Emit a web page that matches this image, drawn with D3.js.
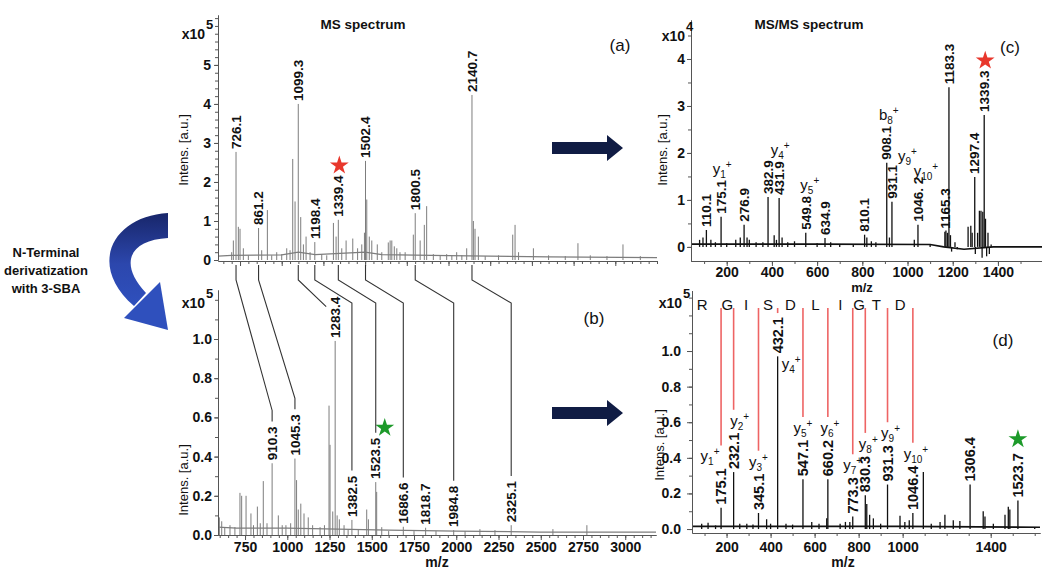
<!DOCTYPE html>
<html>
<head>
<meta charset="utf-8">
<script src="https://cdn.jsdelivr.net/npm/d3@7"></script>
<style>
  body { margin: 0; background: #fff; }
  svg { display: block; }
  text { font-family: "Liberation Sans", Arial, Helvetica, sans-serif; fill: #111; }
</style>
</head>
<body>
<svg id="fig" width="1042" height="572"></svg>
<script>
// ---------- data (m/z, intensity) ----------
// (a) MS spectrum, intensity x1e5
const msLabeled = [[726.1, 2.77], [861.2, 0.82], [1099.3, 4.0], [1198.4, 0.46], [1339.4, 1.03],
  [1502.4, 2.54], [1800.5, 1.2], [2140.7, 4.23]]
const msPeaks = [[700, 0.2], [710, 0.5], [740, 0.85], [750, 0.8], [770, 0.3], [800, 0.12], [880, 0.25],
  [914, 1.28], [940, 0.12], [970, 0.2], [1000, 0.15], [1030, 0.3], [1050, 0.25], [1066, 2.59], [1080, 1.5],
  [1114, 1.1], [1130, 0.4], [1146, 0.6], [1170, 0.2], [1240, 0.15], [1270, 0.12], [1310, 0.95], [1326, 0.6],
  [1360, 0.3], [1386, 0.5], [1426, 0.55], [1455, 0.3], [1480, 0.4], [1496, 0.7], [1510, 1.55], [1525, 0.6],
  [1540, 0.5], [1573, 0.4], [1600, 0.2], [1639, 0.45], [1650, 0.5], [1660, 0.5], [1675, 0.35], [1690, 0.3],
  [1709, 0.2], [1740, 0.2], [1789, 0.65], [1830, 0.5], [1855, 0.9], [1869, 1.38], [1909, 0.15], [1950, 0.12],
  [1989, 0.15], [2020, 0.12], [2049, 0.2], [2080, 0.12], [2109, 0.3], [2149, 1.0], [2159, 0.8], [2179, 0.6],
  [2220, 0.1], [2300, 0.12], [2385, 0.65], [2399, 0.9], [2420, 0.2], [2509, 0.3], [2600, 0.12], [2700, 0.1],
  [2776, 0.43], [2850, 0.12], [2950, 0.1], [3046, 0.4], [3150, 0.1]]
const msBase = [[618, 0.1], [700, 0.12], [1000, 0.13], [1100, 0.2], [1200, 0.14], [1500, 0.2], [1600, 0.14],
  [2000, 0.11], [2600, 0.08], [3250, 0.06]]

// (b) MS spectrum after 3-SBA, intensity x1e5
const derLabeled = [[910.3, 0.366], [1045.3, 0.39], [1283.4, 0.99], [1382.5, 0.077], [1523.5, 0.27],
  [1686.6, 0.042], [1818.7, 0.037], [1984.8, 0.025], [2325.1, 0.05]]
const derPeaks = [[598, 0.09], [612, 0.07], [630, 0.04], [661, 0.05], [690, 0.04], [720, 0.215], [730, 0.2],
  [756, 0.2], [785, 0.11], [800, 0.05], [823, 0.145], [840, 0.06], [858, 0.275], [880, 0.06], [947, 0.1],
  [970, 0.05], [992, 0.05], [1020, 0.06], [1055, 0.28], [1065, 0.13], [1080, 0.16], [1099, 0.11], [1124, 0.09],
  [1150, 0.05], [1194, 0.04], [1220, 0.05], [1247, 0.66], [1253, 0.46], [1269, 0.12], [1295, 0.1], [1308, 0.08],
  [1336, 0.05], [1360, 0.03], [1420, 0.03], [1470, 0.13], [1480, 0.08], [1529, 0.22], [1559, 0.04], [1600, 0.02],
  [1750, 0.02], [1880, 0.02], [2052, 0.02], [2140, 0.03], [2229, 0.025], [2572, 0.03], [2773, 0.05]]
const derBase = [[590, 0.04], [700, 0.035], [1000, 0.035], [1300, 0.03], [1600, 0.025], [2000, 0.02], [2500, 0.015], [3182, 0.015]]

// a -> b shifted peaks
const shiftPairs = [[726.1, 910.3], [861.2, 1045.3], [1099.3, 1283.4], [1198.4, 1382.5], [1339.4, 1523.5],
  [1502.4, 1686.6], [1800.5, 1984.8], [2140.7, 2325.1]]

// (c) MS/MS of 1339.3, intensity x1e4
const msmsLabeled = [[110.1, 0.36, "110.1"], [175.1, 0.64, "175.1"], [276.9, 0.47, "276.9"], [382.9, 1.06, "382.9"],
  [431.9, 1.04, "431.9"], [549.8, 0.30, "549.8"], [634.9, 0.19, "634.9"], [810.1, 0.26, "810.1"],
  [908.1, 1.79, "908.1"], [931.1, 0.96, "931.1"], [1046.2, 0.47, "1046. 2"], [1165.3, 0.32, "1165.3"],
  [1183.3, 3.40, "1183.3"], [1297.4, 1.49, "1297.4"], [1339.3, 2.81, "1339.3"]]
const msmsPeaks = [[80, 0.15], [95, 0.2], [130, 0.15], [150, 0.1], [200, 0.08], [240, 0.15], [260, 0.2], [290, 0.2],
  [300, 0.15], [330, 0.1], [360, 0.1], [410, 0.25], [420, 0.15], [445, 0.2], [470, 0.1], [500, 0.12], [600, 0.08],
  [660, 0.1], [700, 0.06], [760, 0.05], [820, 0.2], [840, 0.12], [860, 0.1], [920, 0.2], [1030, 0.15], [1100, 0.05],
  [1170, 0.35], [1177, 0.3], [1190, 0.25], [1195, -0.1], [1210, 0.1], [1220, -0.05], [1268, 0.43], [1280, 0.45],
  [1286, 0.3], [1300, -0.15], [1310, 0.3], [1318, 0.77], [1325, 0.77], [1330, -0.23], [1333, 0.75], [1345, 0.6],
  [1350, -0.2], [1356, 0.3], [1362, -0.15], [1370, 0.05]]
const msmsBase = [[42, 0.06], [600, 0.06], [1100, 0.05], [1160, 0.0], [1250, -0.05], [1380, 0.0], [1595, 0.0]]
const msmsIons = [[175.1, "y", "1"], [431.9, "y", "4"], [549.8, "y", "5"], [908.1, "b", "8"], [931.1, "y", "9"], [1046.2, "y", "10"]]

// (d) MS/MS of 1523.7 (derivatized), intensity x1e5
const derMsmsLabeled = [[175.1, 0.12], [232.1, 0.32], [345.1, 0.09], [432.1, 0.97], [547.1, 0.28], [660.2, 0.28],
  [773.3, 0.07], [830.3, 0.19], [931.3, 0.25], [1046.4, 0.09], [1306.4, 0.25], [1523.7, 0.16]]
const derMsmsPeaks = [[87, 0.03], [116, 0.035], [150, 0.02], [260, 0.03], [292, 0.03], [320, 0.025], [382, 0.055],
  [400, 0.03], [470, 0.03], [500, 0.025], [587, 0.04], [620, 0.03], [655, 0.06], [716, 0.03], [740, 0.04], [760, 0.04],
  [837, 0.14], [850, 0.08], [867, 0.06], [900, 0.03], [988, 0.075], [1010, 0.04], [1030, 0.05], [1094, 0.32],
  [1130, 0.03], [1170, 0.04], [1192, 0.08], [1230, 0.05], [1260, 0.045], [1366, 0.1], [1374, 0.07], [1412, 0.03],
  [1465, 0.08], [1480, 0.125], [1487, 0.11], [1600, 0.01]]
const derMsmsBase = [[43, 0.015], [600, 0.015], [1000, 0.015], [1624, 0.01]]
const yIons = [175.1, 232.1, 345.1, 432.1, 547.1, 660.2, 773.3, 830.3, 931.3, 1046.4]
const sequence = ["R", "G", "I", "S", "D", "L", "I", "G", "T", "D"]

// tick labels
const xTicksB = [750, 1000, 1250, 1500, 1750, 2000, 2250, 2500, 2750, 3000]
const xTicksC = [200, 400, 600, 800, 1000, 1200, 1400]
const xTicksD = [200, 400, 600, 800, 1000, 1400]
const yTicksA = [0, 1, 2, 3, 4, 5]
const yTicksB = [0, 0.2, 0.4, 0.6, 0.8, 1.0]
const yTicksC = [0, 1, 2, 3, 4]
const yTicksD = [0, 0.2, 0.4, 0.6, 0.8, 1.0]

// ---------- scales ----------
const xA = d3.scaleLinear().domain([618, 3250]).range([218, 657])
const yA = d3.scaleLinear().domain([0, 6.28]).range([260, 15])
const xB = d3.scaleLinear().domain([590, 3182]).range([218, 656])
const yB = d3.scaleLinear().domain([0, 1.25]).range([535, 290])
const xC = d3.scaleLinear().domain([42, 1595]).range([691, 1042])
const yC = d3.scaleLinear().domain([-0.3, 4.83]).range([261, 20])
const xD = d3.scaleLinear().domain([43, 1624]).range([692, 1040])
const yD = d3.scaleLinear().domain([-0.02, 1.34]).range([532.6, 290.5])

const svg = d3.select("#fig")
const axisColor = "#555"

/*
    sticks for every peak + a thin noisy baseline
*/
const drawSpectrum = (x, y, peaks, base, color, width) => {
    let g = svg.append("g")
    g.selectAll("line")
        .data(peaks)
        .join("line")
        .attr("x1", (d) => x(d[0]))
        .attr("x2", (d) => x(d[0]))
        .attr("y1", y(0))
        .attr("y2", (d) => y(d[1]))
        .attr("stroke", color)
        .attr("stroke-width", width)
    g.append("path")
        .datum(base)
        .attr("d", d3.line().x((d) => x(d[0])).y((d) => y(d[1])))
        .attr("fill", "none")
        .attr("stroke", color)
        .attr("stroke-width", width + 0.3)
}

/*
    rotated m/z labels above the peaks, returns the top of each label
*/
const peakLabels = (x, y, list, size) => {
    let out = {}
    svg.append("g")
        .selectAll("text")
        .data(list)
        .join("text")
        .attr("transform", (d) => "translate(" + x(d[0]) + "," + (y(d[1]) - 3) + ") rotate(-90)")
        .attr("dy", "0.35em")
        .attr("font-size", size)
        .attr("font-weight", "bold")
        .text((d) => d[2] || d[0].toFixed(1))
        .each((d, i, e) => {
            out[d[0]] = { x: x(d[0]), peak: y(d[1]), top: y(d[1]) - 3 - e[i].getComputedTextLength() }
        })
    return out
}

const styleAxis = (g, size) => {
    g.selectAll("path, line").attr("stroke", axisColor)
    g.selectAll("text")
        .attr("fill", "#111")
        .attr("font-size", size)
        .attr("font-weight", "bold")
        .attr("font-family", '"Liberation Sans", Arial, sans-serif')
}

const leftAxis = (x0, y, major, fmt, nMinor, tick, pad) => {
    svg.append("g")
        .attr("transform", "translate(" + x0 + ",0)")
        .call(d3.axisLeft(y).tickValues(y.ticks(nMinor)).tickSize(3).tickFormat("").tickSizeOuter(0))
        .call((g) => styleAxis(g, 14))
    svg.append("g")
        .attr("transform", "translate(" + x0 + ",0)")
        .call(d3.axisLeft(y).tickValues(major).tickSize(tick).tickPadding(pad).tickFormat(fmt).tickSizeOuter(0))
        .call((g) => styleAxis(g, 14))
}

const bottomAxis = (y0, x, major, nMinor, labels, pad) => {
    svg.append("g")
        .attr("transform", "translate(0," + y0 + ")")
        .call(d3.axisBottom(x).tickValues(x.ticks(nMinor)).tickSize(3).tickFormat("").tickSizeOuter(0))
        .call((g) => styleAxis(g, 14))
    svg.append("g")
        .attr("transform", "translate(0," + y0 + ")")
        .call(d3.axisBottom(x).tickValues(major).tickSize(5).tickPadding(pad)
            .tickFormat(labels ? d3.format("d") : "").tickSizeOuter(0))
        .call((g) => styleAxis(g, 14))
}

const text = (x, y, str, opt = {}) => svg.append("text")
    .attr("x", x).attr("y", y)
    .attr("text-anchor", opt.anchor || "middle")
    .attr("font-size", opt.size || 13)
    .attr("font-weight", opt.weight || "normal")
    .attr("transform", opt.rotate ? "rotate(-90," + x + "," + y + ")" : null)
    .text(str)

const power = (x, y, exp) => {
    text(x, y, "x10", { anchor: "end", size: 14, weight: "bold" })
    text(x + 1, y - 10, exp, { anchor: "start", size: 13, weight: "bold" })
}

const ionLabel = (x, y, ion, sub, anchor) => {
    let t = svg.append("text")
        .attr("x", x).attr("y", y)
        .attr("text-anchor", anchor)
        .attr("font-size", 15)
    t.append("tspan").text(ion)
    t.append("tspan").attr("dy", 4).attr("font-size", 10).text(sub)
    t.append("tspan").attr("dy", -10).attr("font-size", 10).text("+")
}

const star = (x, y, color) => svg.append("path")
    .attr("d", d3.symbol(d3.symbolStar, 110)())
    .attr("transform", "translate(" + x + "," + y + ")")
    .attr("fill", color)

// ---------- (a) ----------
drawSpectrum(xA, yA, msPeaks.concat(msLabeled), msBase, "#7d7d7d", 1)
leftAxis(218, yA, yTicksA, d3.format("d"), 30, 4, 3)
bottomAxis(261, xA, xTicksB, 50, false, 2)
let labA = peakLabels(xA, yA, msLabeled, 13.5)
power(205, 39, "5")
text(188, 150, "Intens. [a.u.]", { rotate: true, size: 13 })
text(363, 29, "MS spectrum", { size: 13.5, weight: "bold" })
text(620, 51, "(a)", { size: 17 })
star(labA[1339.4].x + 1, labA[1339.4].top - 10, "#e8372c")

// ---------- (b) ----------
drawSpectrum(xB, yB, derPeaks.concat(derLabeled), derBase, "#7d7d7d", 1)
leftAxis(218, yB, yTicksB, d3.format(".1f"), 12, 4, 2)
bottomAxis(535, xB, xTicksB, 50, true, 2)
let labB = peakLabels(xB, yB, derLabeled, 13.5)
power(205, 308, "5")
text(188, 480, "Intens. [a.u.]", { rotate: true, size: 13 })
text(437, 567, "m/z", { size: 14, weight: "bold" })
text(594, 324, "(b)", { size: 17 })
star(labB[1523.5].x + 9, labB[1523.5].top - 10, "#1d9a2a")

// connectors between a and b
svg.append("g")
    .selectAll("path")
    .data(shiftPairs)
    .join("path")
    .attr("d", (d, i) => {
        let xa = xA(d[0]), lb = labB[d[1]]
        let pts = [[xa, 265], [xa, 280]]
        if (i < 2) {
            pts.push([lb.x, lb.top - 16], [lb.x, lb.top - 5])
        } else if (lb.top < 315) {
            pts.push([lb.x - 9, lb.top + 10])
        } else {
            pts.push([lb.x, 303], [lb.x, lb.top - 5])
        }
        return d3.line()(pts)
    })
    .attr("fill", "none")
    .attr("stroke", "#333")
    .attr("stroke-width", 1.1)

// ---------- (c) ----------
drawSpectrum(xC, yC, msmsPeaks.concat(msmsLabeled), msmsBase, "#111", 1.3)
leftAxis(691, yC, yTicksC, d3.format("d"), 10, 4, 2)
bottomAxis(261, xC, xTicksC, 15, true, 1)
let labC = peakLabels(xC, yC, msmsLabeled, 13.5)
power(685, 41, "4")
text(667, 150, "Intens. [a.u.]", { rotate: true, size: 13 })
text(862, 292, "m/z", { size: 13, weight: "bold" })
text(809, 29, "MS/MS spectrum", { size: 13.5, weight: "bold" })
text(1010, 53, "(c)", { size: 17 })
star(labC[1339.3].x + 1, labC[1339.3].top - 10, "#e8372c")
const ionDxC = [1, 1, 4, 2, 0, 8]
msmsIons.forEach((d, i) => {
    let l = labC[d[0]]
    if (d[2] === "9") ionLabel(l.x + 6, l.top - 4, d[1], d[2], "start")
    else if (d[2] === "10") ionLabel(l.x + ionDxC[i], l.top - 1, d[1], d[2], "middle")
    else ionLabel(l.x + ionDxC[i], l.top - 6, d[1], d[2], "middle")
})

// ---------- (d) ----------
drawSpectrum(xD, yD, derMsmsPeaks.concat(derMsmsLabeled), derMsmsBase, "#111", 1.3)
leftAxis(692, yD, yTicksD, d3.format(".1f"), 14, 5, 6)
bottomAxis(533, xD, xTicksD, 15, true, 4)
let labD = peakLabels(xD, yD, derMsmsLabeled, 14.5)
power(682, 308, "5")
text(664, 445, "Intens. [a.u.]", { rotate: true, size: 13 })
text(843, 567, "m/z", { size: 14, weight: "bold" })
text(1003, 346, "(d)", { size: 17 })
star(labD[1523.7].x, labD[1523.7].top - 14, "#1d9a2a")

const ionDxD = [-11, 6, 0, 0, 0, 2, 0, 3, 3, 3]
let redG = svg.append("g")
yIons.forEach((mz, i) => {
    let l = labD[mz]
    let bottom
    if (i === 3) {
        ionLabel(l.x + 4, l.peak + 13, "y", "" + (i + 1), "start")
        bottom = l.top - 4
    } else {
        ionLabel(l.x + ionDxD[i], l.top - 7, "y", "" + (i + 1), "middle")
        bottom = l.top - 23
    }
    redG.append("line")
        .attr("x1", l.x).attr("x2", l.x)
        .attr("y1", 308).attr("y2", bottom)
        .attr("stroke", "#ee6464")
        .attr("stroke-width", 1.6)
})
// residues between successive y ions
sequence.forEach((s, i) => {
    let left = i === 0 ? xD(yIons[0]) - 38 : xD(yIons[i - 1])
    let right = xD(yIons[i])
    text((left + right) / 2, 310, s, { size: 15 })
})

// ---------- arrows ----------
let defs = svg.append("defs")
let grad = defs.append("linearGradient").attr("id", "blueGrad")
    .attr("x1", 0).attr("y1", 0).attr("x2", 0).attr("y2", 1)
grad.append("stop").attr("offset", "0%").attr("stop-color", "#18266a")
grad.append("stop").attr("offset", "55%").attr("stop-color", "#2c47ad")
grad.append("stop").attr("offset", "100%").attr("stop-color", "#2f50bd")

svg.append("path")
    .attr("d", "M168,213 C114,216 86,264 134,306 L146,293 C118,263 130,240 168,238 Z")
    .attr("fill", "url(#blueGrad)")
svg.append("path")
    .attr("d", "M124,318 L160,282 L168,330 Z")
    .attr("fill", "#2f50bd")

svg.append("path")
    .attr("d", "M552,142 H607 V135 L623,148 L607,161 V154 H552 Z")
    .attr("fill", "#101c44")
svg.append("path")
    .attr("d", "M552,407 H607 V400 L623,413 L607,426 V419 H552 Z")
    .attr("fill", "#101c44")

text(46, 257, "N-Terminal", { size: 13, weight: "bold" })
text(46, 275, "derivatization", { size: 13, weight: "bold" })
text(46, 293, "with 3-SBA", { size: 13, weight: "bold" })
</script>
</body>
</html>
